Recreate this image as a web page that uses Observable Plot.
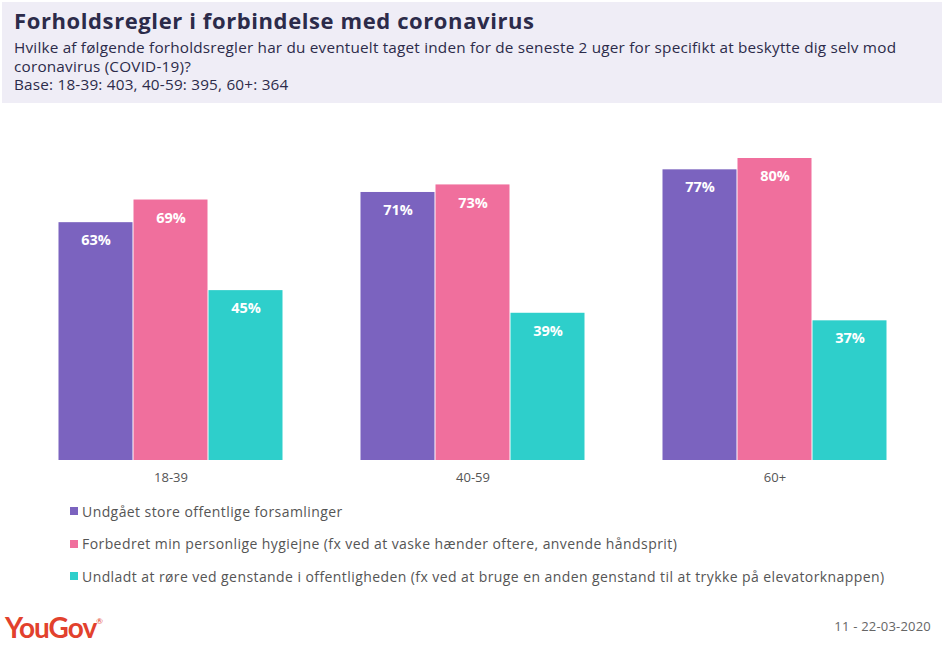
<!DOCTYPE html>
<html><head><meta charset="utf-8">
<script src="https://cdn.jsdelivr.net/npm/d3@7"></script>
<script src="https://cdn.jsdelivr.net/npm/@observablehq/plot@0.6"></script>
<style>
body{margin:0;background:#fff;font-family:"Open Sans",sans-serif;}
#wrap{position:relative;width:944px;height:647px;overflow:hidden;background:#fff;}
#head{position:absolute;left:2px;top:2px;width:940px;height:101px;background:#efedf6;}
#title{position:absolute;left:12px;top:3px;font-size:22px;letter-spacing:0.6px;font-weight:700;color:#2c2b4a;white-space:nowrap;}
#sub{position:absolute;left:12px;top:36px;font-size:15.3px;letter-spacing:0.2px;line-height:18.5px;color:#2c2b4a;white-space:nowrap;}
#chart{position:absolute;left:0;top:110px;}
#legend{position:absolute;left:70px;top:495px;}
.item{display:flex;align-items:center;height:32.5px;font-size:14px;letter-spacing:0.42px;color:#555;white-space:nowrap;}
.sw{width:8px;height:8px;margin-right:4px;flex:none;}
#logo{position:absolute;left:5px;top:610px;font-size:28px;font-weight:700;color:#e2412d;letter-spacing:-1px;font-family:Lato,sans-serif;}
#logo sup{font-size:8px;font-weight:400;vertical-align:top;position:relative;top:6px;}
#date{position:absolute;right:13px;top:617px;font-size:13px;letter-spacing:0.2px;color:#666;}
</style>
</head><body>
<div id="wrap">
  <div id="head">
    <div id="title">Forholdsregler i forbindelse med coronavirus</div>
    <div id="sub">Hvilke af følgende forholdsregler har du eventuelt taget inden for de seneste 2 uger for specifikt at beskytte dig selv mod<br>coronavirus (COVID-19)?<br>Base: 18-39: 403, 40-59: 395, 60+: 364</div>
  </div>
  <div id="chart"></div>
  <div id="legend"></div>
  <div id="logo">YouGov<sup>®</sup></div>
  <div id="date">11 - 22-03-2020</div>
</div>
<script>
const groups = ["18-39", "40-59", "60+"];
const series = [
  "Undgået store offentlige forsamlinger",
  "Forbedret min personlige hygiejne (fx ved at vaske hænder oftere, anvende håndsprit)",
  "Undladt at røre ved genstande i offentligheden (fx ved at bruge en anden genstand til at trykke på elevatorknappen)"
];
const colors = ["#7b63bf", "#f06f9d", "#2ecfcb"];
const values1839 = [63, 69, 45];
const values4059 = [71, 73, 39];
const values60 = [77, 80, 37];

const byGroup = [values1839, values4059, values60];
const data = groups.flatMap((g, i) => series.map((s, j) => ({group: g, series: s, value: byGroup[i][j]})));

const chart = Plot.plot({
  width: 944,
  height: 380,
  marginTop: 48,
  marginBottom: 30,
  marginLeft: 0,
  marginRight: 0,
  style: {fontFamily: "'Open Sans', sans-serif", fontSize: "13px", color: "#555", background: "transparent"},
  fx: {domain: groups, paddingInner: 0.25, paddingOuter: 0.185, label: null, axis: "bottom", tickSize: 0, tickPadding: 12},
  x: {domain: series, axis: null, padding: 0},
  y: {domain: [0, 80], axis: null},
  color: {domain: series, range: colors},
  marks: [
    Plot.barY(data, {fx: "group", x: "series", y: "value", fill: "series", insetLeft: 0.5, insetRight: 0.5}),
    Plot.text(data, {fx: "group", x: "series", y: "value", text: d => d.value + "%", dy: 18, fill: "white", fontWeight: "bold", fontSize: 14.5})
  ]
});
document.getElementById("chart").appendChild(chart);

const legend = document.getElementById("legend");
series.forEach((s, i) => {
  const item = document.createElement("div");
  item.className = "item";
  const sw = document.createElement("span");
  sw.className = "sw";
  sw.style.background = colors[i];
  const t = document.createElement("span");
  t.textContent = s;
  item.appendChild(sw);
  item.appendChild(t);
  legend.appendChild(item);
});
</script>
</body></html>
